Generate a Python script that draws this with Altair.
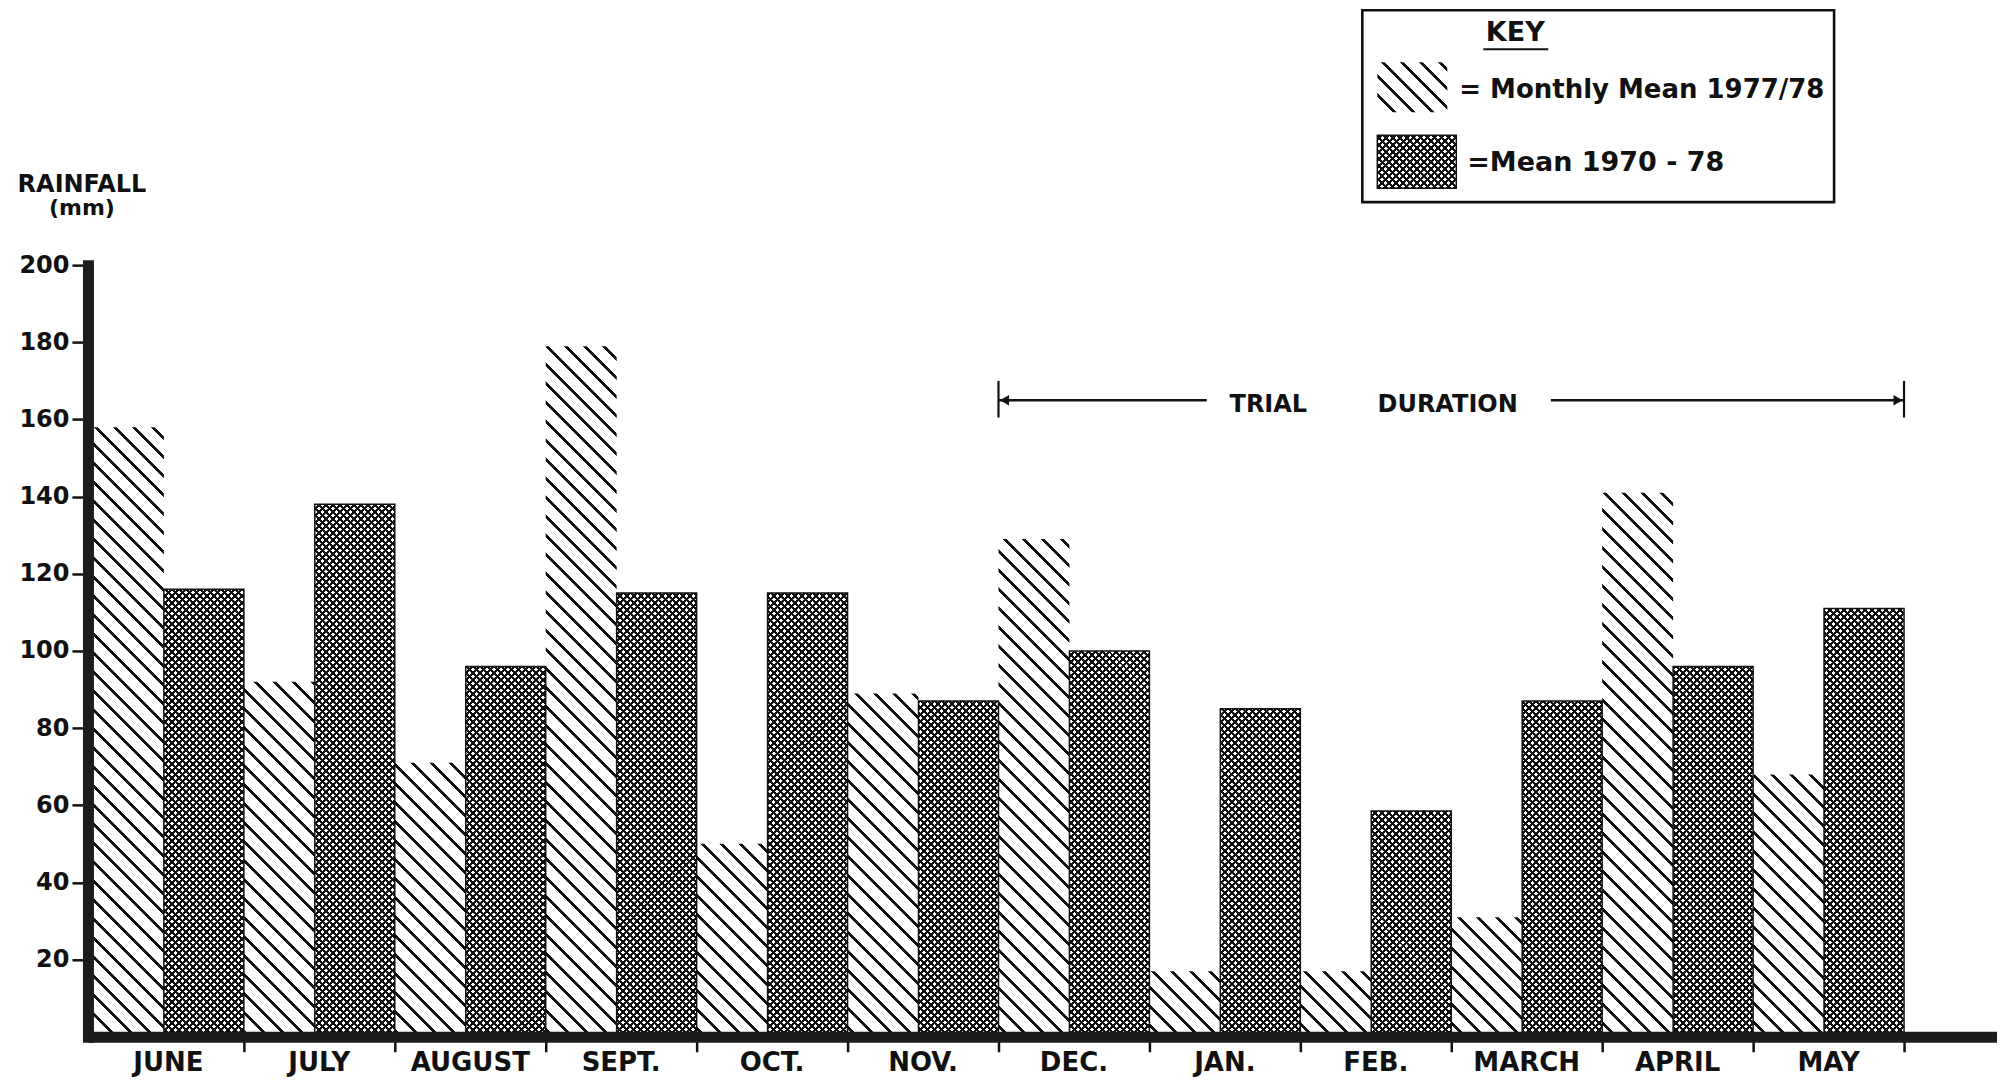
import altair as alt
import pandas as pd

# ---------------- data ----------------
months = ["JUNE", "JULY", "AUGUST", "SEPT.", "OCT.", "NOV.",
          "DEC.", "JAN.", "FEB.", "MARCH", "APRIL", "MAY"]
monthly_mean_1977_78 = [158, 92, 71, 179, 50, 89, 129, 17, 17, 31, 141, 68]
mean_1970_78 = [116, 138, 96, 115, 115, 87, 100, 85, 58.5, 87, 96, 111]
y_tick_values = [20, 40, 60, 80, 100, 120, 140, 160, 180, 200]
month_boundaries = list(range(1, 13))
trial_months = ["DEC.", "MAY"]
trial_text = ["TRIAL", "DURATION"]
key_title = "KEY"
key_labels = ["= Monthly Mean 1977/78", "=Mean  1970 - 78"]
y_title = ["RAINFALL", "(mm)"]

# ---------------- layout / style ----------------
W, H = 1910, 772
PAD = {"left": 80, "top": 257, "right": 0, "bottom": 43}
X_DOMAIN = [-0.033, 12.616]
Y_MAX = 200
SPLIT = 0.47
INK = "#111111"
CLEAR = "rgba(0,0,0,0)"
FONT = "DejaVu Sans"
PXM = W / (X_DOMAIN[1] - X_DOMAIN[0])
PXY = H / Y_MAX
TRIAL_Y = 165
SEG_PX = 60           # pattern tiles are split into short pieces so stripes stay crisp
HATCH = (19, 4)       # period, line thickness (in x-intercept pixels)
CROSS = (7, 3)
PHASE = 0.5           # stripe edges fall between pixel centres


def stripes(w, h, period, thick, direction, ink, paper, c0=0.0):
    """Linear gradient with hard stops drawing 45-degree hatch lines.
    c0 = global line parameter at the gradient start corner (keeps tiles in phase)."""
    L = w + h
    k = L / (w * w + h * h)
    if direction == "back":      # lines like "\"
        x1, y1, x2, y2 = 1.0, 0.0, 1.0 - k * w, k * h
    else:                        # lines like "/"
        x1, y1, x2, y2 = 0.0, 0.0, k * w, k * h
    stops = [{"offset": 0.0, "color": paper}]
    c = ((PHASE - c0) % period) - period
    while c < L:
        a = max(c, 0.0) / L
        b = min(c + thick, L) / L
        if b > a:
            a, b = round(a, 6), round(b, 6)
            stops += [{"offset": a, "color": paper}, {"offset": a, "color": ink},
                      {"offset": b, "color": ink}, {"offset": b, "color": paper}]
        c += period
    stops.append({"offset": 1.0, "color": paper})
    return {"gradient": "linear", "x1": x1, "y1": y1, "x2": round(x2, 6),
            "y2": round(y2, 6), "stops": stops}


xs = alt.Scale(domain=X_DOMAIN, nice=False, zero=False)
ys = alt.Scale(domain=[0, Y_MAX], nice=False, zero=True)
x_axis = alt.Axis(values=month_boundaries, labels=False, ticks=True, tickSize=15,
                  tickWidth=2.5, tickColor=INK, domain=True, domainWidth=11,
                  domainColor="#1c1c1c", grid=False, title=None, zindex=1)
y_axis = alt.Axis(values=y_tick_values, labelFont=FONT, labelFontSize=24,
                  labelFontWeight="bold", labelColor=INK, labelPadding=3,
                  ticks=True, tickSize=16, tickWidth=2.5, tickColor=INK,
                  domain=True, domainWidth=11, domainColor="#1c1c1c",
                  domainCap="square", grid=False, title=None, zindex=1)


def X(field):
    return alt.X(field, type="quantitative", scale=xs, axis=x_axis)


def Y(field):
    return alt.Y(field, type="quantitative", scale=ys, axis=y_axis)


df = pd.DataFrame({
    "idx": list(range(len(months))),
    "month": months,
    "m7778": monthly_mean_1977_78,
    "m7078": mean_1970_78,
})

# split each bar into short vertical pieces (each gets its own in-phase gradient)
rows = []
for i in range(len(months)):
    for series, x0, x1, v in (("h", i, i + SPLIT, monthly_mean_1977_78[i]),
                              ("c", i + SPLIT, i + 1, mean_1970_78[i])):
        top_px = v * PXY
        k = 0
        while k * SEG_PX < top_px - 0.01:
            lo_px = max(0.0, k * SEG_PX - 1.0)
            hi_px = min(top_px, (k + 1) * SEG_PX)
            rows.append({"id": len(rows), "series": series, "x0": x0, "x1": x1,
                         "lo": lo_px / PXY, "hi": hi_px / PXY})
            k += 1
seg = pd.DataFrame(rows)
segbase = alt.Chart(seg)

layers = []
for r in rows:
    xl = (r["x0"] - X_DOMAIN[0]) * PXM
    xr = (r["x1"] - X_DOMAIN[0]) * PXM
    ytop = H - r["hi"] * PXY
    w = xr - xl
    h = (r["hi"] - r["lo"]) * PXY
    if r["series"] == "h":
        fills = [stripes(w, h, HATCH[0], HATCH[1], "back", INK, "white", ytop - xr)]
    else:
        fills = [stripes(w, h, CROSS[0], CROSS[1], "back", INK, "white", ytop - xr),
                 stripes(w, h, CROSS[0], CROSS[1], "fwd", INK, CLEAR, xl + ytop)]
    for g in fills:
        layers.append(
            segbase.transform_filter(alt.datum.id == r["id"])
            .mark_bar(fill=g, strokeWidth=0)
            .encode(x=X("x0"), x2=alt.X2("x1"), y=Y("hi"), y2=alt.Y2("lo"))
        )

# outline of the cross-hatched bars
layers.append(
    alt.Chart(df).transform_calculate(x0=f"datum.idx + {SPLIT}", x1="datum.idx + 1", zero="0")
    .mark_bar(fillOpacity=0, stroke=INK, strokeWidth=1.5)
    .encode(x=X("x0"), x2=alt.X2("x1"), y=Y("m7078"), y2=alt.Y2("zero"))
)

# month labels
layers.append(
    alt.Chart(df).transform_calculate(xc="datum.idx + 0.5")
    .mark_text(font=FONT, fontSize=26, fontWeight="bold", color=INK,
               baseline="middle", align="center")
    .encode(x=X("xc"), y=alt.value(H + 26), text="month:N")
)

# y title
one = alt.Chart(pd.DataFrame({"a": [0]}))
layers.append(one.mark_text(text=y_title[0], font=FONT, fontSize=24, fontWeight="bold",
                            color=INK, align="center", baseline="middle")
              .encode(x=alt.value(-6), y=alt.value(-80)))
layers.append(one.mark_text(text=y_title[1], font=FONT, fontSize=22, fontWeight="bold",
                            color=INK, align="center", baseline="middle")
              .encode(x=alt.value(-6), y=alt.value(-57)))

# trial duration annotation
t0 = months.index(trial_months[0])
t1 = months.index(trial_months[1]) + 1
span = t1 - t0
trial_df = pd.DataFrame({"x": [t0, t1], "lo": [TRIAL_Y - 4.5] * 2, "hi": [TRIAL_Y + 5] * 2})
layers.append(alt.Chart(trial_df).mark_rule(color=INK, strokeWidth=2.2)
              .encode(x=X("x"), y=Y("lo"), y2=alt.Y2("hi")))
arrow_df = pd.DataFrame({"a": [t0, t0 + 0.61 * span], "b": [t0 + 0.23 * span, t1],
                         "y": [TRIAL_Y, TRIAL_Y]})
layers.append(alt.Chart(arrow_df).mark_rule(color=INK, strokeWidth=2.5)
              .encode(x=X("a"), x2=alt.X2("b"), y=Y("y")))
layers.append(alt.Chart(pd.DataFrame({"x": [t0], "y": [TRIAL_Y]}))
              .mark_point(shape="triangle-left", filled=True, size=110, color=INK,
                          opacity=1, xOffset=6)
              .encode(x=X("x"), y=Y("y")))
layers.append(alt.Chart(pd.DataFrame({"x": [t1], "y": [TRIAL_Y]}))
              .mark_point(shape="triangle-right", filled=True, size=110, color=INK,
                          opacity=1, xOffset=-6)
              .encode(x=X("x"), y=Y("y")))
text_df = pd.DataFrame({"t": trial_text, "x": [t0 + 0.298 * span, t0 + 0.496 * span],
                        "y": [TRIAL_Y - 1.3] * 2})
layers.append(alt.Chart(text_df).mark_text(font=FONT, fontSize=24, fontWeight="bold",
                                           color=INK, baseline="middle", align="center")
              .encode(x=X("x"), y=Y("y"), text="t:N"))

# key box
layers.append(one.mark_rect(fill="white", stroke=INK, strokeWidth=2.6)
              .encode(x=alt.value(1275), x2=alt.value(1747), y=alt.value(-255), y2=alt.value(-63)))
layers.append(one.mark_text(text=key_title, font=FONT, fontSize=27, fontWeight="bold",
                            color=INK, align="center", baseline="middle")
              .encode(x=alt.value(1428), y=alt.value(-232)))
layers.append(one.mark_rule(color=INK, strokeWidth=2.2)
              .encode(x=alt.value(1396), x2=alt.value(1461), y=alt.value(-216)))
layers.append(one.mark_rect(fill=stripes(70, 50, HATCH[0], HATCH[1], "back", INK, "white", -203 - 1360),
                            strokeWidth=0)
              .encode(x=alt.value(1290), x2=alt.value(1360), y=alt.value(-203), y2=alt.value(-153)))
layers.append(one.mark_rect(fill=stripes(79, 53, CROSS[0], CROSS[1], "back", INK, "white", -130 - 1369),
                            strokeWidth=0)
              .encode(x=alt.value(1290), x2=alt.value(1369), y=alt.value(-130), y2=alt.value(-77)))
layers.append(one.mark_rect(fill=stripes(79, 53, CROSS[0], CROSS[1], "fwd", INK, CLEAR, 1290 - 130),
                            stroke=INK, strokeWidth=1.5)
              .encode(x=alt.value(1290), x2=alt.value(1369), y=alt.value(-130), y2=alt.value(-77)))
layers.append(one.mark_text(text=key_labels[0], font=FONT, fontSize=26, fontWeight="bold",
                            color=INK, align="left", baseline="middle")
              .encode(x=alt.value(1372), y=alt.value(-175)))
layers.append(one.mark_text(text=key_labels[1], font=FONT, fontSize=27, fontWeight="bold",
                            color=INK, align="left", baseline="middle")
              .encode(x=alt.value(1380), y=alt.value(-102)))

chart = (
    alt.layer(*layers)
    .properties(width=W, height=H, padding=PAD, background="white",
                autosize=alt.AutoSizeParams(type="none"))
    .configure_view(stroke=None)
)

chart.save("out.html", embed_options={"renderer": "svg", "actions": False})
